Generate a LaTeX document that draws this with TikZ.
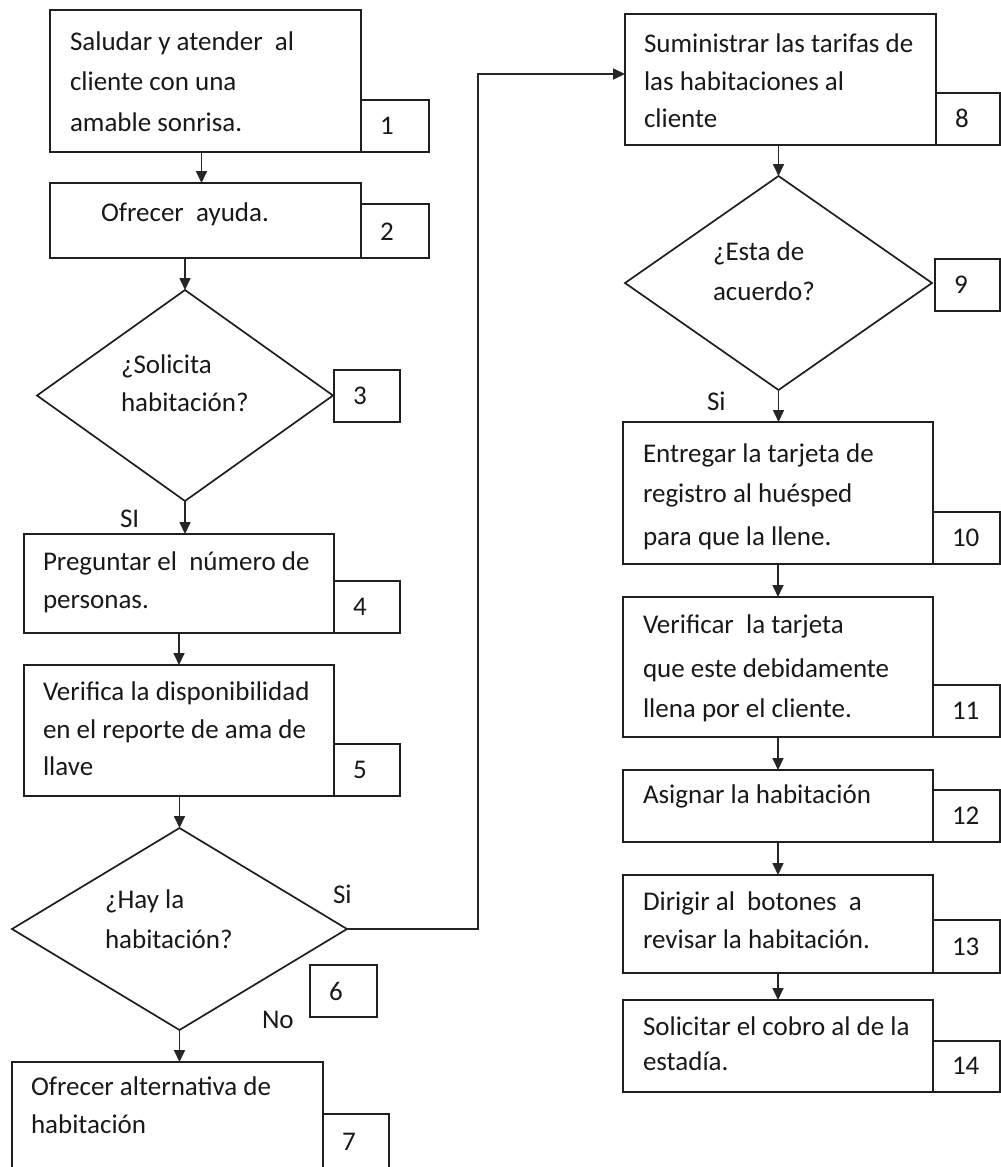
\documentclass[tikz,border=0pt]{standalone}
\usepackage{fontspec}
\setmainfont{Carlito}
\usetikzlibrary{shapes.geometric,arrows.meta}

\tikzset{
  ink/.style={draw=black!88, line width=1.7pt},
  stepbox/.style={ink, rectangle, inner sep=0pt, outer sep=0pt, anchor=north west},
  numbox/.style={ink, rectangle, inner sep=0pt, outer sep=0pt, anchor=north west},
  decision/.style={ink, diamond, inner sep=0pt, outer sep=0pt},
  txt/.style={anchor=base west, inner sep=0pt, outer sep=0pt, text=black!90,
    font=\fontsize{27}{40}\selectfont},
  flow/.style={draw=black!85, line width=1.7pt, -{Triangle[length=12pt,width=11pt]}},
}

\begin{document}
\begin{tikzpicture}[x=1pt, y=-1pt]
  \useasboundingbox (0,0) rectangle (1001,1167);
  \clip (0,0) rectangle (1001,1167);
  \fill[white] (0,0) rectangle (1001,1167);

  % ---- left column ----
  \node[stepbox, minimum width=311pt, minimum height=142pt] (b1) at (50,10) {};
  \node[numbox, minimum width=68pt, minimum height=52pt] (n1) at (361,100) {};
  \node[txt] (t1a) at (70,50) {Saludar y atender\ \ al};
  \node[txt] (t1b) at (70,90) {cliente con una};
  \node[txt] (t1c) at (70,131) {amable sonrisa.};
  \node[txt] (l1) at (380,134) {1};

  \node[stepbox, minimum width=311pt, minimum height=75pt] (b2) at (50,183) {};
  \node[numbox, minimum width=68pt, minimum height=54pt] (n2) at (361,204) {};
  \node[txt] (t2a) at (101,221) {Ofrecer\ \ ayuda.};
  \node[txt] (l2) at (380,240) {2};

  \node[decision, minimum width=296pt, minimum height=211pt] (d3) at (185,395.5) {};
  \node[numbox, minimum width=66pt, minimum height=52pt] (n3) at (334,370) {};
  \node[txt] (t3a) at (121,373) {¿Solicita};
  \node[txt] (t3b) at (121,411) {habitación?};
  \node[txt] (l3) at (353,404) {3};
  \node[txt] (s3) at (120,527) {SI};

  \node[stepbox, minimum width=310pt, minimum height=99pt] (b4) at (24,534) {};
  \node[numbox, minimum width=66pt, minimum height=52pt] (n4) at (334,581) {};
  \node[txt] (t4a) at (43,570) {Preguntar el\ \ número de};
  \node[txt] (t4b) at (43,608) {personas.};
  \node[txt] (l4) at (353,615) {4};

  \node[stepbox, minimum width=310pt, minimum height=131pt] (b5) at (24,665) {};
  \node[numbox, minimum width=66pt, minimum height=52pt] (n5) at (334,744) {};
  \node[txt] (t5a) at (43,700) {Verifica la disponibilidad};
  \node[txt] (t5b) at (43,738) {en el reporte de ama de};
  \node[txt] (t5c) at (43,775) {llave};
  \node[txt] (l5) at (353,778) {5};

  \node[decision, minimum width=335pt, minimum height=202pt] (d6) at (179.5,929) {};
  \node[numbox, minimum width=67pt, minimum height=52pt] (n6) at (310,965) {};
  \node[txt] (t6a) at (105,908) {¿Hay la};
  \node[txt] (t6b) at (105,948) {habitación?};
  \node[txt] (l6) at (329,1000) {6};
  \node[txt] (s6) at (333,903) {Si};
  \node[txt] (o6) at (262,1028) {No};

  \node[stepbox, minimum width=311pt, minimum height=130pt] (b7) at (12,1062) {};
  \node[numbox, minimum width=66pt, minimum height=70pt] (n7) at (323,1114) {};
  \node[txt] (t7a) at (31,1095) {Ofrecer alternativa de};
  \node[txt] (t7b) at (31,1133) {habitación};
  \node[txt] (l7) at (342,1150) {7};

  % ---- right column ----
  \node[stepbox, minimum width=311pt, minimum height=131pt] (b8) at (625,14) {};
  \node[numbox, minimum width=64pt, minimum height=52pt] (n8) at (936,93) {};
  \node[txt] (t8a) at (644,52) {Suministrar las tarifas de};
  \node[txt] (t8b) at (644,90) {las habitaciones al};
  \node[txt] (t8c) at (644,127) {cliente};
  \node[txt] (l8) at (955,127) {8};

  \node[decision, minimum width=307pt, minimum height=214pt] (d9) at (778.5,283) {};
  \node[numbox, minimum width=65pt, minimum height=52pt] (n9) at (935,259) {};
  \node[txt] (t9a) at (713,260) {¿Esta de};
  \node[txt] (t9b) at (713,300) {acuerdo?};
  \node[txt] (l9) at (954,293) {9};
  \node[txt] (s9) at (707,410) {Si};

  \node[stepbox, minimum width=310pt, minimum height=142pt] (b10) at (623,422) {};
  \node[numbox, minimum width=67pt, minimum height=52pt] (n10) at (933,512) {};
  \node[txt] (t10a) at (643,462) {Entregar la tarjeta de};
  \node[txt] (t10b) at (643,502) {registro al huésped};
  \node[txt] (t10c) at (643,545) {para que la llene.};
  \node[txt] (l10) at (952,546) {10};

  \node[stepbox, minimum width=310pt, minimum height=140pt] (b11) at (623,597) {};
  \node[numbox, minimum width=67pt, minimum height=52pt] (n11) at (933,685) {};
  \node[txt] (t11a) at (643,633) {Verificar\ \ la tarjeta};
  \node[txt] (t11b) at (643,677) {que este debidamente};
  \node[txt] (t11c) at (643,717) {llena por el cliente.};
  \node[txt] (l11) at (952,719) {11};

  \node[stepbox, minimum width=310pt, minimum height=72pt] (b12) at (623,770) {};
  \node[numbox, minimum width=67pt, minimum height=52pt] (n12) at (933,790) {};
  \node[txt] (t12a) at (643,803) {Asignar la habitación};
  \node[txt] (l12) at (952,824) {12};

  \node[stepbox, minimum width=310pt, minimum height=98pt] (b13) at (623,875) {};
  \node[numbox, minimum width=67pt, minimum height=53pt] (n13) at (933,920) {};
  \node[txt] (t13a) at (643,910) {Dirigir al\ \ botones\ \ a};
  \node[txt] (t13b) at (643,948) {revisar la habitación.};
  \node[txt] (l13) at (952,955) {13};

  \node[stepbox, minimum width=310pt, minimum height=92pt] (b14) at (623,1000) {};
  \node[numbox, minimum width=67pt, minimum height=51pt] (n14) at (933,1041) {};
  \node[txt] (t14a) at (643,1035) {Solicitar el cobro al de la};
  \node[txt] (t14b) at (643,1070) {estadía.};
  \node[txt] (l14) at (952,1074) {14};

  % ---- connectors ----
  \draw[flow] ([xshift=-4pt]b1.south) -- ([xshift=-4pt]b2.north);
  \draw[flow] (d3.north |- b2.south) -- (d3.north);
  \draw[flow] (d3.south) -- (d3.south |- b4.north);
  \draw[flow] (b4.south) -- (b5.north);
  \draw[flow] (d6.north |- b5.south) -- (d6.north);
  \draw[flow] (d6.south) -- (d6.south |- b7.north);

  \coordinate (bend) at (478,74);
  \draw[flow] (d6.east) -- (d6.east -| bend) -- (bend) -- (bend -| b8.west);

  \draw[flow] (d9.north |- b8.south) -- (d9.north);
  \draw[flow] (d9.south) -- (d9.south |- b10.north);
  \draw[flow] (b10.south) -- (b11.north);
  \draw[flow] (b11.south) -- (b12.north);
  \draw[flow] (b12.south) -- (b13.north);
  \draw[flow] (b13.south) -- (b14.north);
\end{tikzpicture}
\end{document}
